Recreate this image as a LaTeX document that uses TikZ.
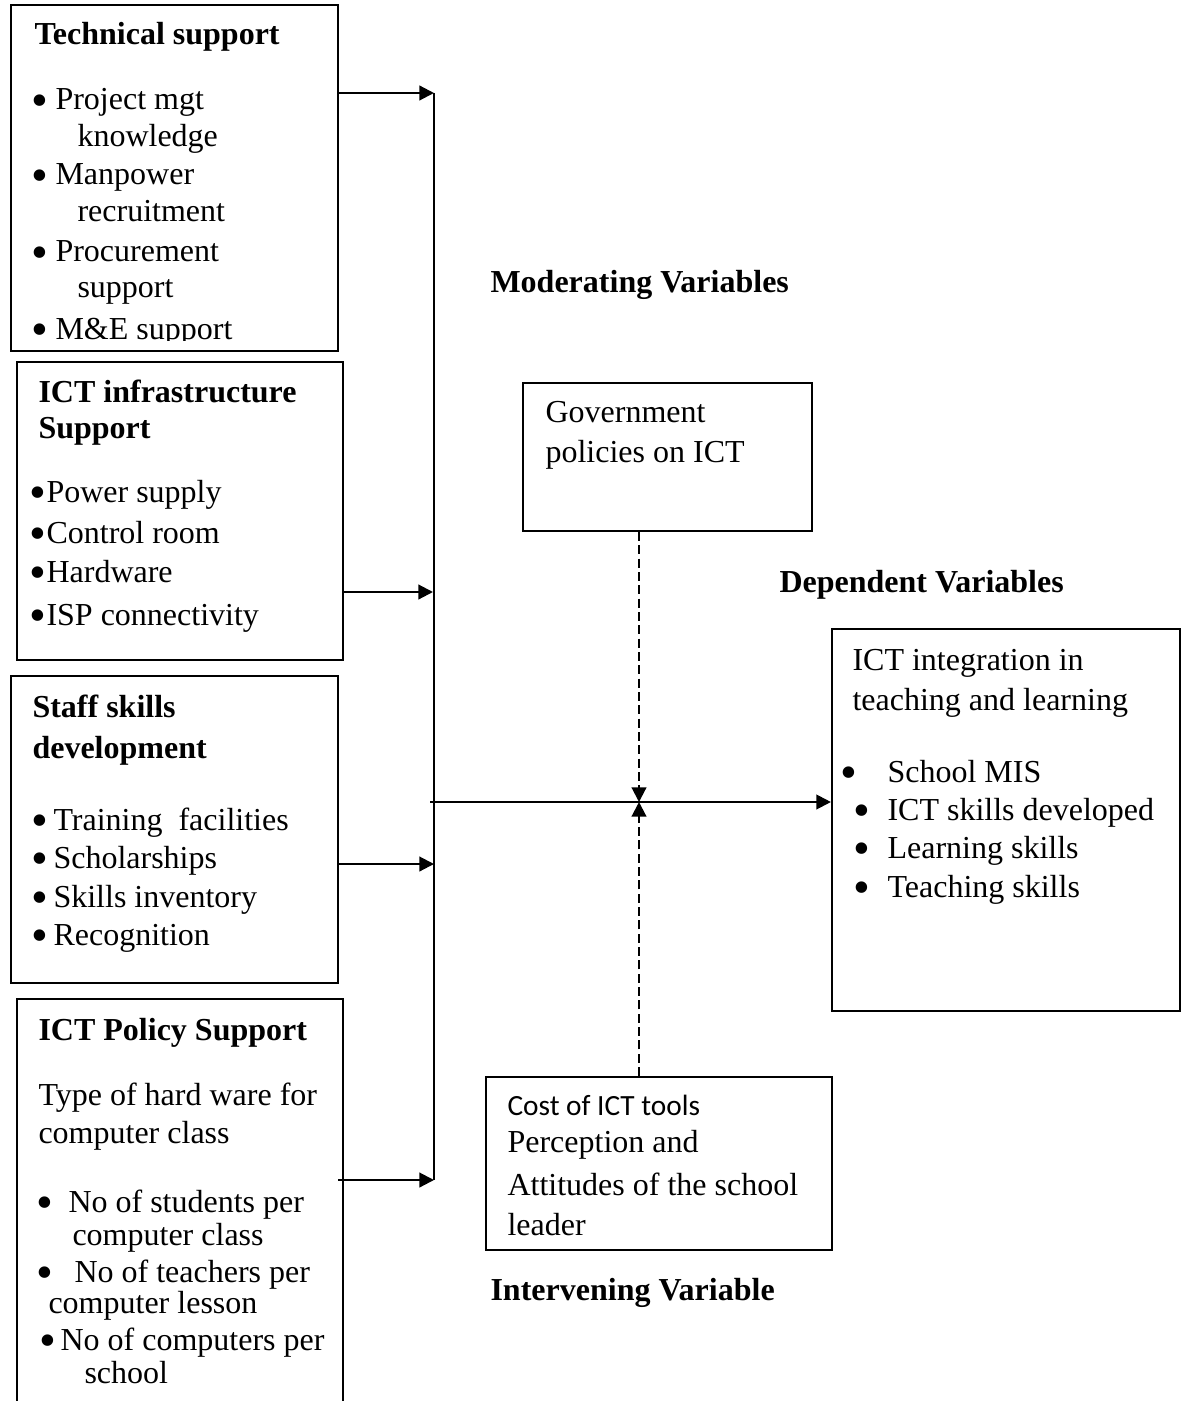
\documentclass[tikz,border=0pt]{standalone}
\usepackage{fontspec}
\usepackage{graphicx}
\setmainfont{Liberation Serif}
\newfontfamily\calibri{Carlito}
\usetikzlibrary{fit,arrows.meta}
\newdimen\unitpx \unitpx=0.375pt
\newcommand\bul[1]{\llap{\makebox[#1\unitpx][l]{\raisebox{-2.5pt}{\scalebox{1.5}{•}}}}}
\tikzset{
  txt/.style={anchor=base west, inner sep=0pt, font=\fontsize{12}{14}\selectfont},
  hd/.style={anchor=base west, inner sep=0pt, font=\fontsize{12}{14}\selectfont\bfseries},
  box/.style={draw, line width=0.8pt, inner sep=0pt},
  arr/.style={line width=0.8pt, -{Triangle[length=5.5pt,width=5.5pt]}},
  dsh/.style={line width=0.8pt, dash pattern=on 3.3pt off 1.7pt, -{Triangle[length=5.5pt,width=5.5pt]}},
}
\begin{document}
\begin{tikzpicture}[x=0.375pt,y=-0.375pt]
\path[use as bounding box] (0,0) rectangle (1188,1401);
\clip (0,0) rectangle (1188,1401);

% ---------- Technical support ----------
\node[box, fit={(11,5) (338,351)}] (tech) {};
\node[hd] (t0) at (34,45) {Technical support};
\node[txt] (t1) at (55,110) {\bul{24}Project mgt};
\node[txt] (t2) at (77,147) {knowledge};
\node[txt] (t3) at (55,185) {\bul{24}Manpower};
\node[txt] (t4) at (77,222) {recruitment};
\node[txt] (t5) at (55,262) {\bul{24}Procurement};
\node[txt] (t6) at (77,298) {support};
\begin{scope}
\clip (11,5) rectangle (338,340);
\node[txt] (t7) at (55,339) {\bul{24}M\&E support};
\end{scope}

% ---------- ICT infrastructure ----------
\node[box, fit={(17,362) (343,660)}] (infra) {};
\node[hd] (i0) at (38,402) {ICT infrastructure};
\node[hd] (i1) at (38,438) {Support};
\node[txt] (i2) at (46,502) {\bul{17}Power supply};
\node[txt] (i3) at (46,543) {\bul{17}Control room};
\node[txt] (i4) at (46,582) {\bul{17}Hardware};
\node[txt] (i5) at (46,625) {\bul{17}ISP connectivity};

% ---------- Staff skills ----------
\node[box, fit={(11,676) (338,983)}] (staff) {};
\node[hd] (s0) at (32,717) {Staff skills};
\node[hd] (s1) at (32,758) {development};
\node[txt] (s2) at (53,830) {\bul{22}Training\ \ facilities};
\node[txt] (s3) at (53,868) {\bul{22}Scholarships};
\node[txt] (s4) at (53,907) {\bul{22}Skills inventory};
\node[txt] (s5) at (53,945) {\bul{22}Recognition};

% ---------- ICT policy ----------
\node[box, fit={(17,999) (343,1440)}] (policy) {};
\node[hd] (p0) at (38,1040) {ICT Policy Support};
\node[txt] (p1) at (38,1105) {Type of hard ware for};
\node[txt] (p2) at (38,1143) {computer class};
\node[txt] (p3) at (68,1212) {\bul{32}No of students per};
\node[txt] (p4) at (72,1245) {computer class};
\node[txt] (p5) at (74,1282) {\bul{38}No of teachers per};
\node[txt] (p6) at (48,1313) {computer lesson};
\node[txt] (p7) at (60,1350) {\bul{21}No of computers per};
\node[txt] (p8) at (84,1383) {school};

% ---------- Moderating ----------
\node[hd] (modl) at (490,293) {Moderating Variables};
\node[box, fit={(523,383) (812,531)}] (gov) {};
\node[txt] (g1) at (545,422) {Government};
\node[txt] (g2) at (545,462) {policies on ICT};

% ---------- Dependent ----------
\node[hd] (depl) at (779,592) {Dependent Variables};
\node[box, fit={(832,629) (1180,1011)}] (dep) {};
\node[txt] (d1) at (852,670) {ICT integration in};
\node[txt] (d2) at (852,710) {teaching and learning};
\node[txt] (d3) at (887,782) {\bul{47}School MIS};
\node[txt] (d4) at (887,820) {\bul{34}ICT skills developed};
\node[txt] (d5) at (887,858) {\bul{34}Learning skills};
\node[txt] (d6) at (887,897) {\bul{34}Teaching skills};

% ---------- Intervening ----------
\node[box, fit={(486,1077) (832,1250)}] (interv) {};
\node[anchor=base west, inner sep=0pt, font=\calibri\fontsize{11}{13}\selectfont] (v1) at (507,1115) {Cost of ICT tools};
\node[txt] (v2) at (507,1152) {Perception and};
\node[txt] (v3) at (507,1195) {Attitudes of the school};
\node[txt] (v4) at (507,1235) {leader};
\node[hd] (intl) at (490,1300) {Intervening Variable};

% ---------- Connectors ----------
\coordinate (b1) at (434,93);
\coordinate (b2) at (433,592);
\coordinate (b3) at (434,864);
\coordinate (b4) at (434,1180);
\coordinate (j) at (430,802);
\coordinate (m) at (639,802);
\coordinate (pe) at (338,1180);
\draw[line width=0.8pt] (b1) -- (b4);
\draw[arr] (tech.east |- b1) -- (b1);
\draw[arr] (infra.east |- b2) -- (b2);
\draw[arr] (staff.east |- b3) -- (b3);
\draw[arr] (pe) -- (b4);
\draw[arr] (j) -- (dep.west |- j);
\draw[dsh] (m |- gov.south) -- (m);
\draw[dsh] (m |- interv.north) -- (m);
\end{tikzpicture}
\end{document}
